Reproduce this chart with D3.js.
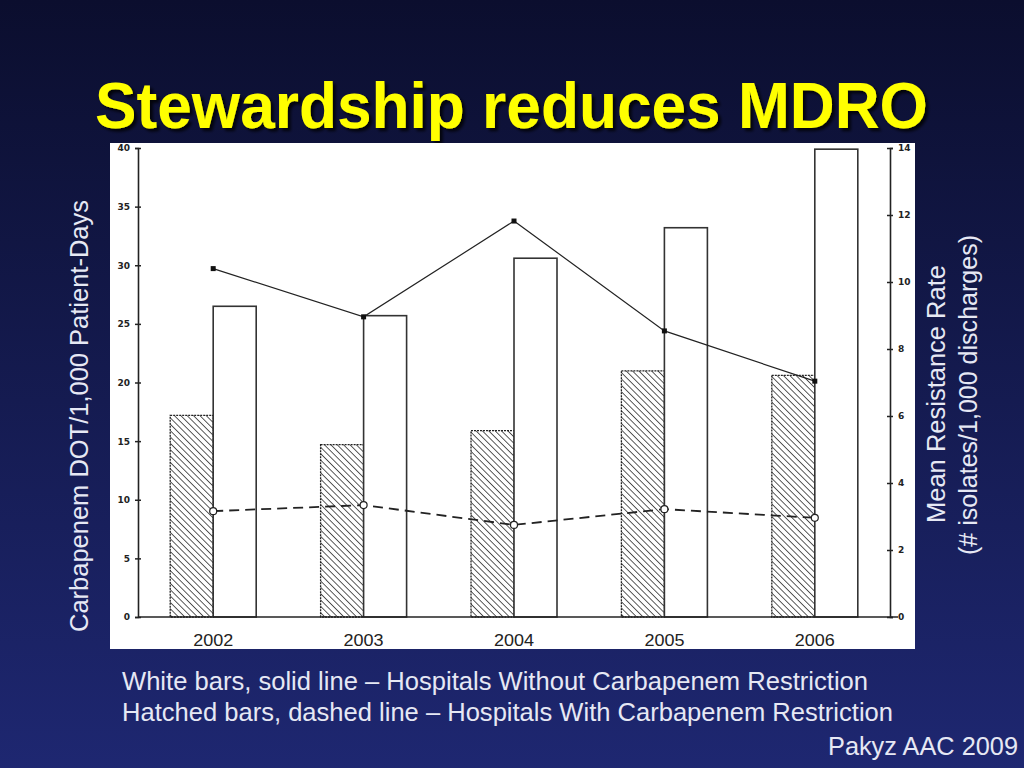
<!DOCTYPE html>
<html><head><meta charset="utf-8">
<script src="https://cdn.jsdelivr.net/npm/d3@7"></script>
<style>html,body{margin:0;padding:0;overflow:hidden;}</style>
</head><body>
<svg id="c" width="1024" height="768"></svg>
<script>
const years = ["2002","2003","2004","2005","2006"];
const hatchedBars = [17.2, 14.7, 15.9, 21.0, 20.6];   // with restriction (DOT)
const whiteBars   = [26.5, 25.7, 30.6, 33.2, 39.9];   // without restriction (DOT)
const solidLine   = [10.4, 8.96, 11.82, 8.54, 7.04];  // without restriction (resistance)
const dashedLine  = [3.16, 3.34, 2.75, 3.22, 2.96];   // with restriction (resistance)
const leftTicks  = [0,5,10,15,20,25,30,35,40];
const rightTicks = [0,2,4,6,8,10,12,14];

const svg = d3.select("#c");
const defs = svg.append("defs");
const bg = defs.append("linearGradient").attr("id","bg").attr("x1",0).attr("y1",0).attr("x2",0).attr("y2",1);
bg.append("stop").attr("offset","0%").attr("stop-color","#0b0e2e");
bg.append("stop").attr("offset","100%").attr("stop-color","#1e2771");
const pat = defs.append("pattern").attr("id","hatch").attr("patternUnits","userSpaceOnUse")
  .attr("width",4.5).attr("height",4.5).attr("patternTransform","rotate(-45)");
pat.append("rect").attr("width",4.5).attr("height",4.5).attr("fill","#fff");
pat.append("line").attr("x1",0).attr("y1",0).attr("x2",0).attr("y2",4.5).attr("stroke","#333").attr("stroke-width",1.6);
const sh = defs.append("filter").attr("id","sh").attr("x","-5%").attr("y","-5%").attr("width","110%").attr("height","120%");
sh.append("feDropShadow").attr("dx",3).attr("dy",3).attr("stdDeviation",1.5).attr("flood-color","#000").attr("flood-opacity",0.8);

svg.append("rect").attr("width",1024).attr("height",768).attr("fill","url(#bg)");

const tf = "Liberation Sans, Arial, sans-serif";
// title
svg.append("text").attr("x",95).attr("y",128)
  .attr("font-family",tf).attr("font-weight","bold")
  .attr("font-size",65).attr("fill","#ffff00").attr("filter","url(#sh)")
  .attr("textLength",833).attr("lengthAdjust","spacingAndGlyphs")
  .text("Stewardship reduces MDRO");

// white chart panel
svg.append("rect").attr("x",110).attr("y",143).attr("width",805).attr("height",506).attr("fill","#fff");

const x0 = 138, x1 = 890, yBot = 617, yTop = 148;
const x = d3.scaleBand().domain(years).range([x0,x1]);
const yL = d3.scaleLinear().domain([0,40]).range([yBot,yTop]);
const yR = d3.scaleLinear().domain([0,14]).range([yBot,yTop]);
const bw = 43;
const cx = d => x(d) + x.bandwidth()/2;

// bars
const g = svg.append("g");
g.selectAll(".hb").data(years).join("rect")
  .attr("x", d => cx(d) - bw).attr("width", bw)
  .attr("y", (d,i) => yL(hatchedBars[i])).attr("height", (d,i) => yBot - yL(hatchedBars[i]))
  .attr("fill","url(#hatch)").attr("stroke","#222").attr("stroke-width",1.3).attr("stroke-dasharray","2,1");
g.selectAll(".wb").data(years).join("rect")
  .attr("x", d => cx(d)).attr("width", bw)
  .attr("y", (d,i) => yL(whiteBars[i])).attr("height", (d,i) => yBot - yL(whiteBars[i]))
  .attr("fill","#fff").attr("stroke","#333").attr("stroke-width",1.6);

// axes
const font = "DejaVu Sans, sans-serif";
const axL = svg.append("g").attr("transform",`translate(${x0},0)`)
  .call(d3.axisLeft(yL).tickValues(leftTicks).tickSize(3).tickFormat(d3.format("d")));
const axR = svg.append("g").attr("transform",`translate(${x1},0)`)
  .call(d3.axisRight(yR).tickValues(rightTicks).tickSize(3).tickFormat(d3.format("d")));
[axL, axR].forEach(a => {
  a.select(".domain").attr("stroke","#222").attr("stroke-width",1.6);
  a.selectAll(".tick line").attr("stroke","#222").attr("stroke-width",1.5);
  a.selectAll("text").attr("font-family",font).attr("font-weight","bold").attr("font-size",9).attr("fill","#222");
});
axL.selectAll(".tick line").attr("x1",3);
axR.selectAll(".tick line").attr("x1",-3);
axL.selectAll("text").attr("x",-8);
axR.selectAll("text").attr("x",8);

const axB = svg.append("g").attr("transform",`translate(0,${yBot})`)
  .call(d3.axisBottom(x).tickSize(0).tickPadding(17));
axB.select(".domain").attr("stroke","#222").attr("stroke-width",1.6).attr("d",`M${x0},0H${x1+8}`);
axB.selectAll("text").attr("font-family",tf).attr("font-size",17).attr("fill","#222")
  .attr("textLength",40).attr("lengthAdjust","spacingAndGlyphs");

// lines
const solid = d3.line().x((d,i)=>cx(years[i])).y(d=>yR(d));
svg.append("path").attr("d", solid(solidLine)).attr("fill","none").attr("stroke","#222").attr("stroke-width",1.2);
svg.selectAll(".sm").data(solidLine).join("rect")
  .attr("x",(d,i)=>cx(years[i])-2.5).attr("y",d=>yR(d)-2.5).attr("width",5).attr("height",5).attr("fill","#111");
svg.append("path").attr("d", solid(dashedLine)).attr("fill","none").attr("stroke","#222")
  .attr("stroke-width",1.8).attr("stroke-dasharray","10,6");
svg.selectAll(".dm").data(dashedLine).join("circle")
  .attr("cx",(d,i)=>cx(years[i])).attr("cy",d=>yR(d)).attr("r",3.5)
  .attr("fill","#fff").attr("stroke","#222").attr("stroke-width",1.2);

// axis titles
const tc = "#e6e8f4";
svg.append("text").attr("transform","translate(88,632) rotate(-90)")
  .attr("font-family",tf).attr("font-size",26).attr("fill",tc)
  .attr("textLength",432).attr("lengthAdjust","spacingAndGlyphs").text("Carbapenem DOT/1,000 Patient-Days");
svg.append("text").attr("transform","translate(945,523) rotate(-90)")
  .attr("font-family",tf).attr("font-size",26).attr("fill",tc)
  .attr("textLength",258).attr("lengthAdjust","spacingAndGlyphs").text("Mean Resistance Rate");
svg.append("text").attr("transform","translate(977,555) rotate(-90)")
  .attr("font-family",tf).attr("font-size",26).attr("fill",tc)
  .attr("textLength",320).attr("lengthAdjust","spacingAndGlyphs").text("(# isolates/1,000 discharges)");

// notes
const notes = ["White bars, solid line \u2013 Hospitals Without Carbapenem Restriction",
               "Hatched bars, dashed line \u2013 Hospitals With Carbapenem Restriction"];
const noteW = [746, 771];
svg.selectAll(".note").data(notes).join("text").attr("x",122).attr("y",(d,i)=>690+i*31)
  .attr("font-family",tf).attr("font-size",25).attr("fill",tc)
  .attr("textLength",(d,i)=>noteW[i]).attr("lengthAdjust","spacingAndGlyphs").text(d=>d);
svg.append("text").attr("x",828).attr("y",755)
  .attr("font-family",tf).attr("font-size",25).attr("fill",tc)
  .attr("textLength",190).attr("lengthAdjust","spacingAndGlyphs").text("Pakyz AAC 2009");
</script>
</body></html>
